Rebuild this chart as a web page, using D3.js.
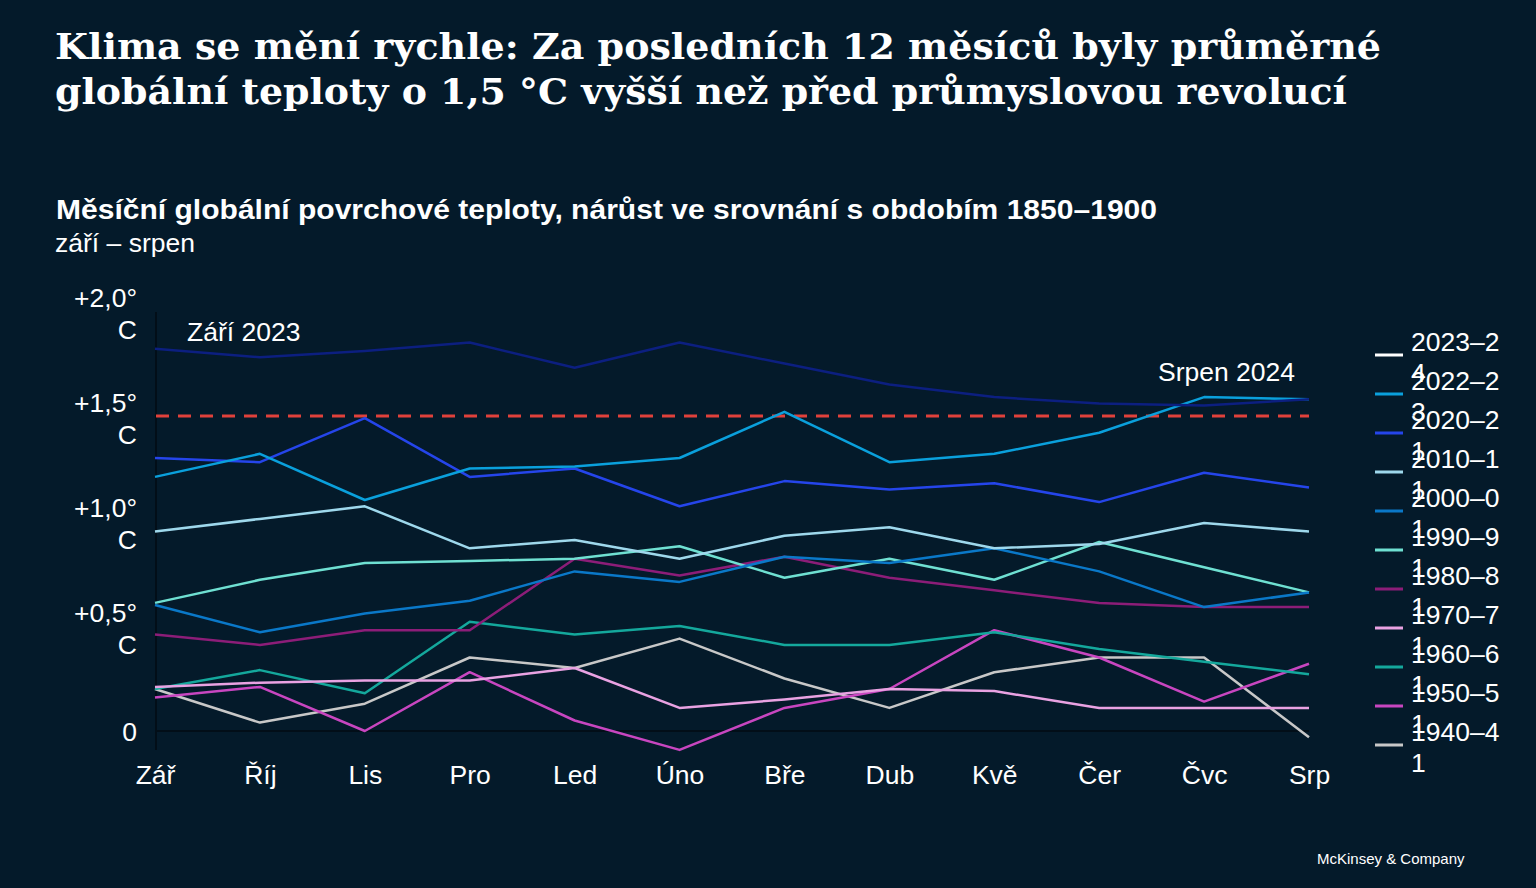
<!DOCTYPE html>
<html><head><meta charset="utf-8">
<script src="https://cdn.jsdelivr.net/npm/d3@7"></script>
<style>
html,body{margin:0;padding:0;background:#041a2a;}
svg{display:block;}
</style></head>
<body>
<svg id="c" width="1536" height="888"></svg>
<script>
const months = ["Zář","Říj","Lis","Pro","Led","Úno","Bře","Dub","Kvě","Čer","Čvc","Srp"];
const seriesNames = ["2023–24","2022–23","2020–21","2010–11","2000–01","1990–91","1980–81","1970–71","1960–61","1950–51","1940–41"];
const s2023 = [1.82,1.78,1.81,1.85,1.73,1.85,1.75,1.65,1.59,1.56,1.55,1.58];
const s2022 = [1.21,1.32,1.10,1.25,1.26,1.30,1.52,1.28,1.32,1.42,1.59,1.58];
const s2020 = [1.30,1.28,1.49,1.21,1.25,1.07,1.19,1.15,1.18,1.09,1.23,1.16];
const s2010 = [0.95,1.01,1.07,0.87,0.91,0.82,0.93,0.97,0.87,0.89,0.99,0.95];
const s2000 = [0.60,0.47,0.56,0.62,0.76,0.71,0.83,0.80,0.87,0.76,0.59,0.66];
const s1990 = [0.61,0.72,0.80,0.81,0.82,0.88,0.73,0.82,0.72,0.90,0.78,0.66];
const s1980 = [0.46,0.41,0.48,0.48,0.82,0.74,0.83,0.73,0.67,0.61,0.59,0.59];
const s1970 = [0.21,0.23,0.24,0.24,0.30,0.11,0.15,0.20,0.19,0.11,0.11,0.11];
const s1960 = [0.20,0.29,0.18,0.52,0.46,0.50,0.41,0.41,0.47,0.39,0.33,0.27];
const s1950 = [0.16,0.21,0.00,0.28,0.05,-0.09,0.11,0.20,0.48,0.35,0.14,0.32];
const s1940 = [0.20,0.04,0.13,0.35,0.30,0.44,0.25,0.11,0.28,0.35,0.35,-0.03];
const yTicks = [0, 0.5, 1.0, 1.5, 2.0];
const yTickLabels = ["0", "+0,5°C", "+1,0°C", "+1,5°C", "+2,0°C"];
const threshold = 1.5;

const lineColors = ["#0c1f80","#0aa0dc","#2545ea","#9ed8ec","#0a78c8","#6fe0d2","#8c1d78","#e9a2e2","#14a89c","#c846c0","#c8c8c8"];
const legendColors = ["#ffffff","#0aa0dc","#2545ea","#9ed8ec","#0a78c8","#6fe0d2","#8c1d78","#e9a2e2","#14a89c","#c846c0","#c8c8c8"];
const allSeries = [s2023,s2022,s2020,s2010,s2000,s1990,s1980,s1970,s1960,s1950,s1940];

const svg = d3.select("#c");
const W = 1536, H = 888;
const SANS = "'Liberation Sans', Arial, sans-serif";
const FS = 26.5;
svg.append("rect").attr("width",W).attr("height",H).attr("fill","#041a2a");

// Title
const title = svg.append("text").attr("font-family","'DejaVu Serif', Georgia, serif").attr("font-weight","bold")
  .attr("font-size",35).attr("fill","#ffffff");
title.append("tspan").attr("x",55).attr("y",59).attr("textLength",1326).attr("lengthAdjust","spacingAndGlyphs")
  .text("Klima se mění rychle: Za posledních 12 měsíců byly průměrné");
title.append("tspan").attr("x",55).attr("y",104).attr("textLength",1292).attr("lengthAdjust","spacingAndGlyphs")
  .text("globální teploty o 1,5 °C vyšší než před průmyslovou revolucí");

svg.append("text").attr("x",56).attr("y",219).attr("font-family",SANS)
  .attr("font-weight","bold").attr("font-size",27).attr("fill","#ffffff")
  .attr("textLength",1101).attr("lengthAdjust","spacingAndGlyphs")
  .text("Měsíční globální povrchové teploty, nárůst ve srovnání s obdobím 1850–1900");
svg.append("text").attr("x",55).attr("y",252).attr("font-family",SANS)
  .attr("font-size",FS).attr("fill","#ffffff").text("září – srpen");

const x = d3.scalePoint().domain(months).range([155,1309]);
const y = d3.scaleLinear().domain([0,2]).range([731,311]);

// axis lines
svg.append("line").attr("x1",156).attr("x2",156).attr("y1",312).attr("y2",750)
  .attr("stroke","#020e18").attr("stroke-width",2);
svg.append("line").attr("x1",156).attr("x2",x("Srp")).attr("y1",y(0)).attr("y2",y(0))
  .attr("stroke","#020e18").attr("stroke-width",2);

// y axis labels
const yAxis = svg.append("g").attr("transform","translate(137,0)")
  .call(d3.axisLeft(y).tickValues(yTicks).tickSize(0).tickPadding(0).tickFormat((d,i)=>yTickLabels[i]));
yAxis.select(".domain").remove();
yAxis.selectAll("text").each(function(d,i){
  const t = d3.select(this);
  const lab = yTickLabels[i];
  t.text(null).attr("fill","#ffffff").attr("font-size",FS)
   .attr("font-family",SANS).attr("text-anchor","end").attr("dy",null);
  if (lab.endsWith("C")) {
    t.append("tspan").attr("x",0).attr("y",-4.5).text(lab.slice(0,-1));
    t.append("tspan").attr("x",0).attr("y",27.5).text("C");
  } else {
    t.append("tspan").attr("x",0).attr("y",9.5).text(lab);
  }
});

// x axis labels
const xAxis = svg.append("g").attr("transform","translate(0,783.5)")
  .call(d3.axisBottom(x).tickSize(0).tickPadding(0));
xAxis.select(".domain").remove();
xAxis.selectAll("text").attr("fill","#ffffff").attr("font-size",FS)
  .attr("font-family",SANS).attr("dy",0).attr("y",0);

// threshold
svg.append("line").attr("x1",156).attr("x2",x("Srp")).attr("y1",y(threshold)).attr("y2",y(threshold))
  .attr("stroke","#e0413b").attr("stroke-width",3).attr("stroke-dasharray","13,9");

// lines
const line = d3.line().x((d,i)=>x(months[i])).y(d=>y(d));
for (let k = allSeries.length-1; k >= 0; k--) {
  svg.append("path").datum(allSeries[k]).attr("d",line).attr("fill","none")
    .attr("stroke",lineColors[k]).attr("stroke-width",2.5).attr("stroke-linejoin","round");
}

// annotations
svg.append("text").attr("x",187).attr("y",341).attr("font-family",SANS)
  .attr("font-size",FS).attr("fill","#ffffff").text("Září 2023");
svg.append("text").attr("x",1158).attr("y",381).attr("font-family",SANS)
  .attr("font-size",FS).attr("fill","#ffffff").text("Srpen 2024");

// legend
const lg = svg.append("g");
seriesNames.forEach((n,i)=>{
  const yy = 355 + i*39;
  lg.append("line").attr("x1",1375).attr("x2",1403).attr("y1",yy).attr("y2",yy)
    .attr("stroke",legendColors[i]).attr("stroke-width",3);
  const t = lg.append("text").attr("font-family",SANS)
    .attr("font-size",FS).attr("fill","#ffffff");
  t.append("tspan").attr("x",1411).attr("y",yy-4).text(n.slice(0,-1));
  t.append("tspan").attr("x",1411).attr("y",yy+27).text(n.slice(-1));
});

svg.append("text").attr("x",1317).attr("y",864).attr("font-family",SANS)
  .attr("font-size",15).attr("fill","#ffffff").text("McKinsey & Company");
</script>
</body></html>
